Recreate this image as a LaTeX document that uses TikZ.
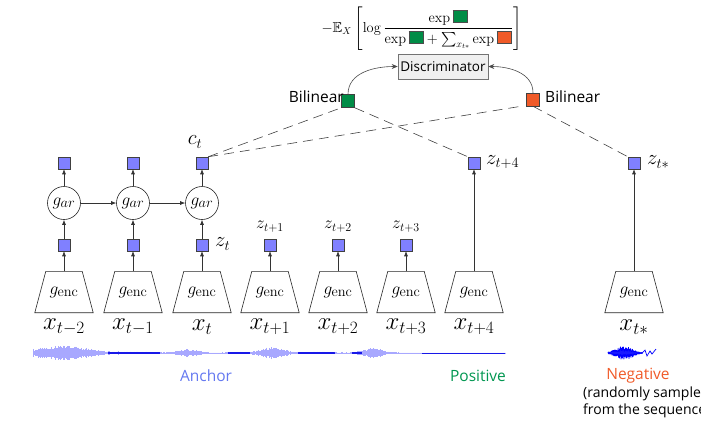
\documentclass[tikz,border=0pt]{standalone}
\usepackage{amsmath,amssymb}
\usepackage[no-math]{fontspec}
\newfontfamily\osans{Open Sans}
\usetikzlibrary{arrows.meta}
\definecolor{zblue}{RGB}{128,128,255}
\definecolor{cgreen}{RGB}{0,140,70}
\definecolor{corange}{RGB}{240,90,40}
\definecolor{canchor}{RGB}{100,120,240}
\definecolor{cpos}{RGB}{0,150,80}
\definecolor{wlight}{RGB}{110,110,255}
\newcommand{\fsq}[1]{{\setlength{\fboxsep}{0pt}\setlength{\fboxrule}{0.6pt}\fcolorbox{black!70}{#1}{\rule{0pt}{12pt}\rule{14pt}{0pt}}}}
\begin{document}
\begin{tikzpicture}[x=1pt,y=-1pt,
  sq/.style={draw=black!75, fill=zblue, minimum size=12pt, inner sep=0pt, line width=0.5pt},
  bsq/.style={draw=black!75, minimum size=13pt, inner sep=0pt, line width=0.5pt},
  encbox/.style={minimum width=58pt, minimum height=41pt, inner sep=0pt, font=\fontsize{19}{19}\selectfont},
  encline/.style={draw=black!85, line width=0.6pt},
  arbox/.style={circle, draw=black!85, line width=0.6pt, minimum size=33pt, inner sep=0pt, font=\fontsize{19}{19}\selectfont},
  arr/.style={-{Latex[length=5pt,width=4pt]}, draw=black!80, line width=0.6pt},
  carr/.style={-{Stealth[length=6pt,width=5pt]}, draw=black!70, line width=0.6pt},
  dline/.style={dash pattern=on 10pt off 6pt, draw=black!75, line width=0.6pt},
  xlab/.style={font=\fontsize{23}{23}\selectfont, inner sep=0pt},
  zlab/.style={font=\fontsize{18}{18}\selectfont, inner sep=0pt},
  blab/.style={font=\fontsize{22}{22}\selectfont, inner sep=0pt},
  stxt/.style={font=\osans\fontsize{15.5}{18}\selectfont, inner sep=0pt},
  wavelight/.style={draw=wlight, line width=0.7pt, opacity=0.6},
  wavedark/.style={draw=blue!90!black, line width=1.3pt, opacity=0.85}
]
\useasboundingbox (0,0) rectangle (701,424);

% encoders
\foreach \i/\x/\lab in {1/64/{t-2},2/133/{t-1},3/202/{t},4/270/{t+1},5/338/{t+2},6/406/{t+3},7/474/{t+4},n/634/{t*}}{
  \node[encbox] (e\i) at (\x,292) {$g_{\mathrm{enc}}$};
  \draw[encline] (e\i.south west) -- (e\i.south east) -- ([xshift=-11pt]e\i.north east)
     -- ([xshift=11pt]e\i.north west) -- cycle;
  \node[xlab] (x\i) at (\x,327) {$x_{\lab}$};
}

% lower z squares
\foreach \i/\x in {1/64,2/133,3/202,4/270,5/338,6/406}{
  \node[sq] (z\i) at (\x,245) {};
  \draw[arr] (e\i.north) -- (z\i.south);
}
% autoregressive
\foreach \i/\x in {1/64,2/133,3/202}{
  \node[arbox] (a\i) at (\x,203) {$g_{ar}$};
  \node[sq] (c\i) at (\x,163) {};
  \draw[arr] (z\i.north) -- (a\i.south);
  \draw[arr] (a\i.north) -- (c\i.south);
}
\draw[arr] (a1.east) -- (a2.west);
\draw[arr] (a2.east) -- (a3.west);

% labels
\node[blab] (ctl) at (195,142) {$c_t$};
\node[blab, anchor=west] (ztl) at (215,244) {$z_t$};
\node[zlab] (l4) at (270,227) {$z_{t+1}$};
\node[zlab] (l5) at (338,227) {$z_{t+2}$};
\node[zlab] (l6) at (406,227) {$z_{t+3}$};

% positive and negative
\node[sq] (z7) at (474,163) {};
\node[blab, anchor=west] (z7l) at (486,162) {$z_{t+4}$};
\draw[arr] (e7.north) -- (z7.south);
\node[sq] (zn) at (634,163) {};
\node[blab, anchor=west] (znl) at (647,162) {$z_{t*}$};
\draw[arr] (en.north) -- (zn.south);

% bilinear
\node[bsq, fill=cgreen] (gb) at (348,101) {};
\node[bsq, fill=corange] (ob) at (533,99.5) {};
\node[stxt, anchor=east] (gbl) at (344,97) {Bilinear};
\node[stxt, anchor=west] (obl) at (545,97) {Bilinear};

% discriminator
\node[draw=black!55, fill=black!6, line width=0.6pt, minimum width=90pt, minimum height=25pt, inner sep=0pt,
      font=\osans\fontsize{13.5}{15}\selectfont] (disc) at (443,66.5) {Discriminator};
\draw[carr] (gb.north) to[out=90,in=180] (disc.west);
\draw[carr] (ob.north) to[out=90,in=0] (disc.east);

% dashed connectors
\draw[dline] (c3.north east) -- (gb.south west);
\draw[dline] (c3.north east) -- ([xshift=-5pt]ob.south west);
\draw[dline] (gb.south east) -- (z7.north west);
\draw[dline] (ob.south) -- (zn.north west);

% formula
\node[inner sep=0pt, font=\fontsize{14.5}{17}\selectfont] (form) at (421.5,28.5)
  {$-\mathbb{E}_X\,\Biggl[\log\dfrac{\exp\fsq{cgreen}}{\exp\fsq{cgreen}+\sum_{x_{t*}}\exp\fsq{corange}}\Biggr]$};

% waveform
\pgfmathsetseed{7}
\foreach \x in {33,34,...,505}{
  \pgfmathsetmacro\A{(0.5+7*exp(-min(20,((\x-62)/34)^2))+1.0*exp(-min(20,((\x-135)/22)^2))+3.6*exp(-min(20,((\x-188)/13)^2))+0.8*exp(-min(20,((\x-238)/9)^2))+5.8*exp(-min(20,((\x-272)/15)^2))+1.0*exp(-min(20,((\x-318)/14)^2))+4.6*exp(-min(20,((\x-372)/13)^2)))*(0.55+0.45*rnd)}
  \draw[wavelight] (\x,353-\A) -- (\x,353+\A);
}
\draw[wavedark] (108,353) -- (160,353);
\draw[wavedark] (228,353) -- (250,353);
\draw[wavedark] (298,353) -- (335,353);
\draw[wavedark] (352,353) -- (362,353);
\draw[wavedark, line width=1pt] (422,353) -- (505,353);
% negative waveform
\foreach \x in {608,608.5,...,642}{
  \pgfmathsetmacro\B{7*exp(-min(20,((\x-624)/12)^2))*(0.5+0.5*rnd)}
  \draw[draw=blue, line width=0.8pt] (\x,353-\B) -- (\x+0.5,353+\B);
}
\draw[draw=blue, line width=0.7pt] (642,353) -- (645,350) -- (647,356) -- (650,351) -- (652,354) -- (656,349);

% bottom texts
\node[stxt, text=canchor] (anc) at (206,376) {Anchor};
\node[stxt, text=cpos] (pos) at (478,376) {Positive};
\node[stxt, text=corange] (neg) at (638,376) {Negative};
\node[stxt, anchor=north west, align=left, font=\osans\fontsize{14}{17}\selectfont] (negd) at (583,387)
  {(randomly sampled\\from the sequence)};
\end{tikzpicture}
\end{document}
